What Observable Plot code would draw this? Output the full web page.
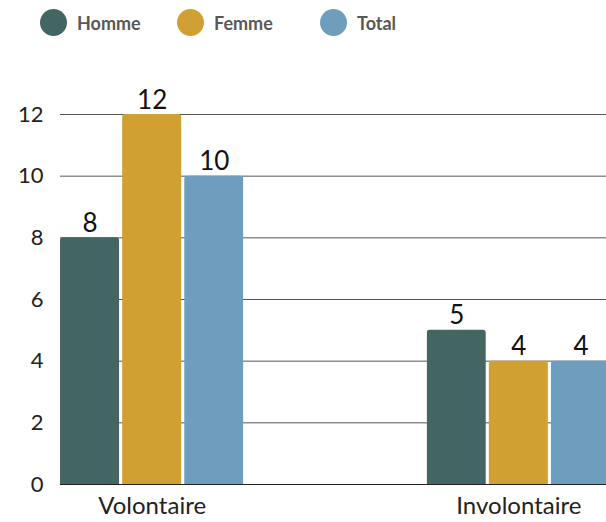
<!DOCTYPE html>
<html><head><meta charset="utf-8">
<script src="https://cdn.jsdelivr.net/npm/d3@7"></script>
<script src="https://cdn.jsdelivr.net/npm/@observablehq/plot@0.6"></script>
<style>
body{margin:0;background:#fff;font-family:Lato,sans-serif;}
#wrap{position:relative;width:606px;height:522px;overflow:hidden;}
#legend{position:absolute;left:0;top:0;width:606px;height:45px;}
.item{position:absolute;top:9px;height:27px;display:flex;align-items:center;font-weight:bold;font-size:18px;color:#585858;font-family:Lato,sans-serif;}
.dot{width:27px;height:27px;border-radius:50%;margin-right:10px;}
#bg,#fg{position:absolute;left:0;top:45px;}
</style></head>
<body>
<div id="wrap">
  <div id="legend"></div>
  <div id="bg"></div>
  <div id="fg"></div>
</div>
<script>
const groups = ["Volontaire", "Involontaire"];
const series = ["Homme", "Femme", "Total"];
const colors = ["#436662", "#d0a132", "#6e9dbd"];
const homme = [8, 5];
const femme = [12, 4];
const total = [10, 4];
const yTicks = [0, 2, 4, 6, 8, 10, 12];

const valuesBySerie = {Homme: homme, Femme: femme, Total: total};
const data = groups.flatMap((g, i) => series.map(s => ({group: g, serie: s, value: valuesBySerie[s][i]})));

// legend
const legendLeft = [40, 177, 320];
const legend = document.getElementById("legend");
series.forEach((s, i) => {
  const item = document.createElement("div");
  item.className = "item";
  item.style.left = legendLeft[i] + "px";
  const dot = document.createElement("span");
  dot.className = "dot";
  dot.style.background = colors[i];
  item.appendChild(dot);
  item.appendChild(document.createTextNode(s));
  legend.appendChild(item);
});

const common = {
  width: 606, height: 477,
  marginLeft: 60, marginRight: 0, marginTop: 69, marginBottom: 38,
  style: {fontFamily: "Lato, sans-serif", fontSize: "22px", color: "#222", background: "transparent", overflow: "visible"}
};

const bg = Plot.plot({
  ...common,
  x: {axis: null},
  y: {domain: [0, 12], ticks: yTicks, tickSize: 0, tickPadding: 17, label: null},
  marks: [
    Plot.ruleY(yTicks.filter(d => d > 0), {stroke: "#555", strokeWidth: 1}),
    Plot.ruleY([0], {stroke: "#222", strokeWidth: 1})
  ]
});
document.getElementById("bg").appendChild(bg);

const fg = Plot.plot({
  ...common,
  style: {...common.style, fontSize: "24px"},
  fx: {domain: groups, range: [60, 610], paddingInner: 0.5, paddingOuter: 0, round: false, axis: "bottom", tickSize: 0, tickPadding: 12, label: null},
  x: {domain: series, paddingInner: 0.05, paddingOuter: 0, round: false, axis: null},
  y: {domain: [0, 12], axis: null},
  color: {domain: series, range: colors},
  marks: [
    Plot.barY(data, {fx: "group", x: "serie", y: "value", fill: "serie", rx: 3, insetBottom: -5, clip: true}),
    Plot.text(data, {fx: "group", x: "serie", y: "value", text: d => String(d.value), lineAnchor: "bottom", dy: -6, fontSize: 26, fill: "#111"})
  ]
});
document.getElementById("fg").appendChild(fg);
</script>
</body></html>
